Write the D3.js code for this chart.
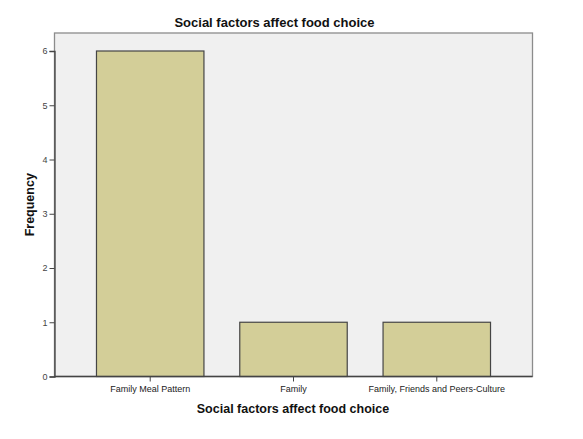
<!DOCTYPE html>
<html><head><meta charset="utf-8">
<script src="https://cdn.jsdelivr.net/npm/d3@7/dist/d3.min.js"></script>
<style>body{margin:0;background:#fff}svg{display:block}text{font-family:"Liberation Sans",Arial,sans-serif}</style>
</head><body>
<script>
const categories = ["Family Meal Pattern", "Family", "Family, Friends and Peers-Culture"];
const frequencies = [6, 1, 1];
const yTicks = [0, 1, 2, 3, 4, 5, 6];
const title = "Social factors affect food choice";
const xTitle = "Social factors affect food choice";
const yTitle = "Frequency";

const W = 583, H = 439;
const L = 54.5, R = 532.5, T = 33, B = 376.5;
const svg = d3.select("body").append("svg").attr("width", W).attr("height", H);

const x = d3.scaleBand().domain(categories).range([L, R]).paddingInner(0.25).paddingOuter(0.293);
const y = d3.scaleLinear().domain([0, 6]).range([B, B - 6 * 54.25]);

svg.append("rect").attr("x", L).attr("y", T).attr("width", R - L).attr("height", B - T)
  .attr("fill", "#f0f0f0").attr("stroke", "#8c8c8c").attr("stroke-width", 1.3);

svg.selectAll("rect.bar").data(frequencies).join("rect").attr("class", "bar")
  .attr("x", (d, i) => x(categories[i]))
  .attr("width", x.bandwidth())
  .attr("y", d => y(d))
  .attr("height", d => y(0) - y(d))
  .attr("fill", "#d3ce98").attr("stroke", "#454545").attr("stroke-width", 1.2);

const yAxis = svg.append("g").attr("transform", `translate(${L},0)`)
  .call(d3.axisLeft(y).tickValues(yTicks).tickSize(5).tickPadding(2).tickFormat(d3.format("d")));
yAxis.select(".domain").attr("stroke", "#444").attr("stroke-width", 1.3);
yAxis.selectAll(".tick line").attr("stroke", "#444");
yAxis.selectAll(".tick text").attr("font-size", 9).attr("fill", "#444").attr("font-family", "Liberation Sans, Arial, sans-serif");

const xAxis = svg.append("g").attr("transform", `translate(0,${B})`)
  .call(d3.axisBottom(x).tickSize(5).tickPadding(4).tickSizeOuter(0));
xAxis.select(".domain").attr("stroke", "#444").attr("stroke-width", 1.3).attr("d", `M${L},0H${R}`);
xAxis.selectAll(".tick line").attr("stroke", "#444");
xAxis.selectAll(".tick text").attr("font-size", 9).attr("fill", "#222").attr("font-family", "Liberation Sans, Arial, sans-serif");

svg.append("text").attr("x", 274.5).attr("y", 27).attr("text-anchor", "middle")
  .attr("font-size", 13).attr("font-weight", "bold").attr("fill", "#111").text(title);
svg.append("text").attr("x", 293).attr("y", 413).attr("text-anchor", "middle")
  .attr("font-size", 12.5).attr("font-weight", "bold").attr("fill", "#111").text(xTitle);
svg.append("text").attr("transform", `translate(34,${(T + B) / 2}) rotate(-90)`).attr("text-anchor", "middle")
  .attr("font-size", 12.5).attr("font-weight", "bold").attr("fill", "#111").text(yTitle);
</script>
</body></html>
